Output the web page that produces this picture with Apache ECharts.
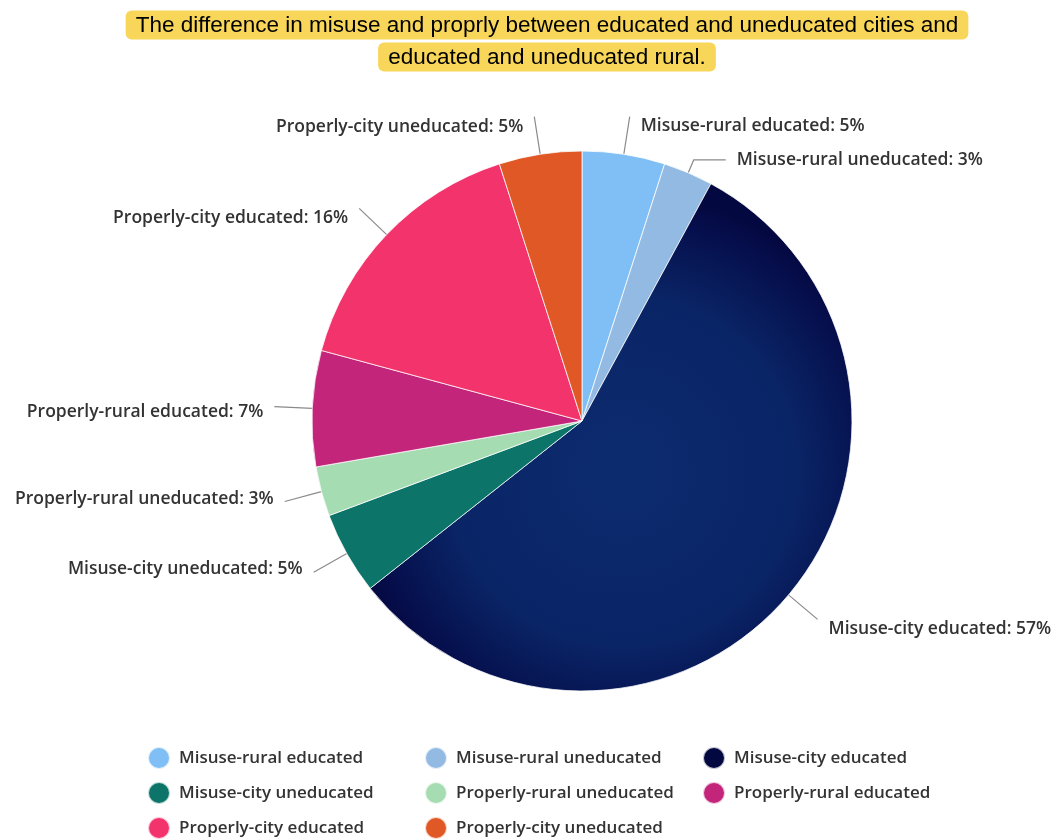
<!DOCTYPE html>
<html>
<head>
<meta charset="utf-8">
<script src="https://cdn.jsdelivr.net/npm/echarts@6/dist/echarts.min.js"></script>
<style>
  html, body { margin: 0; padding: 0; background: #ffffff; }
  #chart { width: 1055px; height: 839px; }
</style>
</head>
<body>
<div id="chart"></div>
<script>
// Share of each group (percent), clockwise from 12 o'clock
const categories = [
  'Misuse-rural educated',
  'Misuse-rural uneducated',
  'Misuse-city educated',
  'Misuse-city uneducated',
  'Properly-rural uneducated',
  'Properly-rural educated',
  'Properly-city educated',
  'Properly-city uneducated'
];
const shares = [5, 3, 57, 5, 3, 7, 16, 5];

const titleLines = [
  'The difference in misuse and proprly between educated and uneducated cities and',
  'educated and uneducated rural.'
];

// legend columns, top to bottom
const legendColumns = [
  ['Misuse-rural educated', 'Misuse-city uneducated', 'Properly-city educated'],
  ['Misuse-rural uneducated', 'Properly-rural uneducated', 'Properly-city uneducated'],
  ['Misuse-city educated', 'Properly-rural educated']
];

const CX = 582, CY = 421, R = 270;

const navyFill = new echarts.graphic.RadialGradient(CX + 40, CY + 50, R + 10, [
  { offset: 0, color: '#0c2b6f' },
  { offset: 0.62, color: '#0a2566' },
  { offset: 0.9, color: '#060f4d' },
  { offset: 1, color: '#040840' }
], true);

const sliceColors = [
  '#80bff6',
  '#92bae2',
  navyFill,
  '#0c7468',
  '#a6dcb2',
  '#c2257a',
  '#f3346c',
  '#e05825'
];
const legendColors = [
  '#80bff6', '#92bae2', '#060c48', '#0c6b62', '#a6dcb2', '#b5156a', '#f0326a', '#e05825'
];

// vertical nudge of each label relative to its leader end (px)
const labelDrop = [9, 0, 10, -3, -2, 5, 10, 10];

const chart = echarts.init(document.getElementById('chart'), null, { renderer: 'canvas' });

const labelFont = '"Open Sans", "Noto Sans", sans-serif';

const option = {
  animation: false,
  backgroundColor: '#ffffff',
  color: legendColors,
  graphic: [{
    type: 'text',
    x: 547,
    y: 9,
    style: {
      text: titleLines.map(function (t) { return '{h|' + t + '}'; }).join('\n'),
      align: 'center',
      verticalAlign: 'top',
      rich: {
        h: {
          fontFamily: '"Liberation Sans", Arial, sans-serif',
          fontSize: 22.5,
          color: '#4a4e56',
          backgroundColor: '#f8d65a',
          borderRadius: 6,
          padding: [4, 10, 2, 10],
          lineHeight: 32,
          align: 'center'
        }
      }
    }
  }],
  legend: legendColumns.map(function (col, i) {
    return {
      orient: 'vertical',
      left: [147, 424, 702][i],
      top: 746,
      height: 120,
      padding: 0,
      data: col,
      icon: 'circle',
      itemWidth: 22,
      itemHeight: 22,
      itemGap: 11,
      selectedMode: false,
      textStyle: {
        fontFamily: labelFont,
        fontSize: 17,
        fontWeight: 600,
        color: '#333333',
        padding: [0, 0, 0, 4]
      }
    };
  }),
  series: [{
    type: 'pie',
    center: [CX, CY],
    radius: [0, R],
    startAngle: 90,
    clockwise: true,
    data: categories.map(function (name, i) {
      const item = {
        name: name,
        value: shares[i],
        itemStyle: { color: sliceColors[i] }
      };
      if (i === 1) {
        // short slice squeezed next to its neighbour: bend its leader outwards
        item.labelLine = { length: 14, length2: 32 };
      }
      return item;
    }),
    itemStyle: {
      borderColor: 'rgba(255,255,255,0.75)',
      borderWidth: 1
    },
    label: {
      show: true,
      position: 'outside',
      formatter: '{b}: {c}%',
      fontFamily: labelFont,
      fontSize: 17.5,
      fontWeight: 600,
      color: '#333333',
      overflow: 'none',
      distanceToLabelLine: 11
    },
    labelLine: {
      show: true,
      length: 38,
      length2: 0,
      smooth: false,
      lineStyle: { width: 1.2, color: '#8a8a8a' }
    },
    labelLayout: function (p) {
      return { dy: labelDrop[p.dataIndex] };
    },
    emphasis: { disabled: true }
  }]
};

chart.setOption(option);
</script>
</body>
</html>
